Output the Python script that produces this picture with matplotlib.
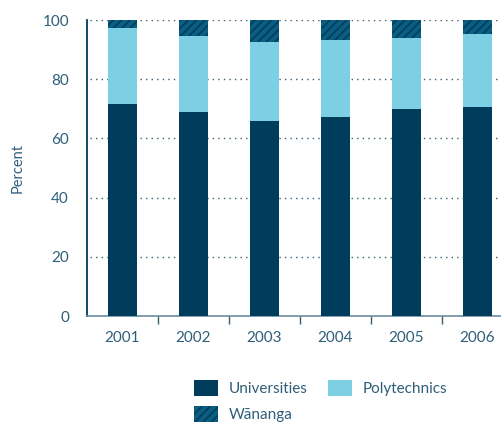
import numpy as np
import matplotlib.pyplot as plt
from matplotlib.patches import Patch

years = ['2001', '2002', '2003', '2004', '2005', '2006']
universities = [71.6, 68.9, 65.9, 67.2, 69.9, 70.6]
polytechnics = [25.7, 25.8, 26.7, 26.0, 24.0, 24.7]
wananga = [2.7, 5.3, 7.4, 6.8, 6.1, 4.7]

c_uni = '#003d5c'
c_poly = '#7dcfe3'
c_wan = '#0b5e82'
c_text = '#2e5f7a'

plt.rcParams['font.family'] = ['Lato', 'DejaVu Sans']
plt.rcParams['hatch.color'] = c_uni
plt.rcParams['hatch.linewidth'] = 1.2

fig = plt.figure(figsize=(5.02, 4.23), dpi=100)
ax = fig.add_axes([87 / 502, 107 / 423, 426 / 502, 296 / 423])

x = np.arange(len(years))
w = 0.41
uni = np.array(universities)
poly = np.array(polytechnics)
ax.bar(x, uni, w, color=c_uni, zorder=3)
ax.bar(x, poly, w, bottom=uni, color=c_poly, zorder=3)
ax.bar(x, wananga, w, bottom=uni + poly, color=c_wan, hatch='////',
       edgecolor=c_uni, linewidth=0, zorder=3)

ax.set_xlim(-0.5, 5.5)
ax.set_ylim(0, 100)
ax.set_yticks([0, 20, 40, 60, 80, 100])
for v in [20, 40, 60, 80, 100]:
    ax.axhline(v, xmin=0.008, color='#3a5f75', linestyle=(0, (1, 3)),
               linewidth=1, zorder=1)

ax.set_xticks(x)
ax.set_xticklabels(years)
ax.set_xticks(np.arange(0.5, 5.5, 1), minor=True)
ax.tick_params(axis='x', which='major', length=0, pad=11, labelsize=11, colors=c_text)
ax.tick_params(axis='x', which='minor', length=6, width=1, color='#3a5f75')
ax.tick_params(axis='y', length=0, pad=13, labelsize=11, colors=c_text)

for s in ['top', 'right']:
    ax.spines[s].set_visible(False)
ax.spines['left'].set_color(c_uni)
ax.spines['left'].set_linewidth(1.3)
ax.spines['bottom'].set_color('#6a8da0')
ax.spines['bottom'].set_linewidth(1.2)

fig.text(18 / 502, 1 - 168 / 423, 'Percent', rotation=90, ha='center', va='center',
         fontsize=10.5, color=c_text)

handles = [Patch(facecolor=c_uni, label='Universities'),
           Patch(facecolor=c_wan, hatch='////', edgecolor=c_uni, linewidth=0, label='Wānanga'),
           Patch(facecolor=c_poly, label='Polytechnics')]
fig.legend(handles=handles, ncol=2, loc='upper left', bbox_to_anchor=(194 / 502, 1 - 380 / 423),
           frameon=False, fontsize=11, labelcolor=c_text, handlelength=1.6, handleheight=1.2,
           columnspacing=1.3, handletextpad=0.7, labelspacing=0.65, borderaxespad=0,
           borderpad=0)

fig.savefig('out.png', dpi=100)
